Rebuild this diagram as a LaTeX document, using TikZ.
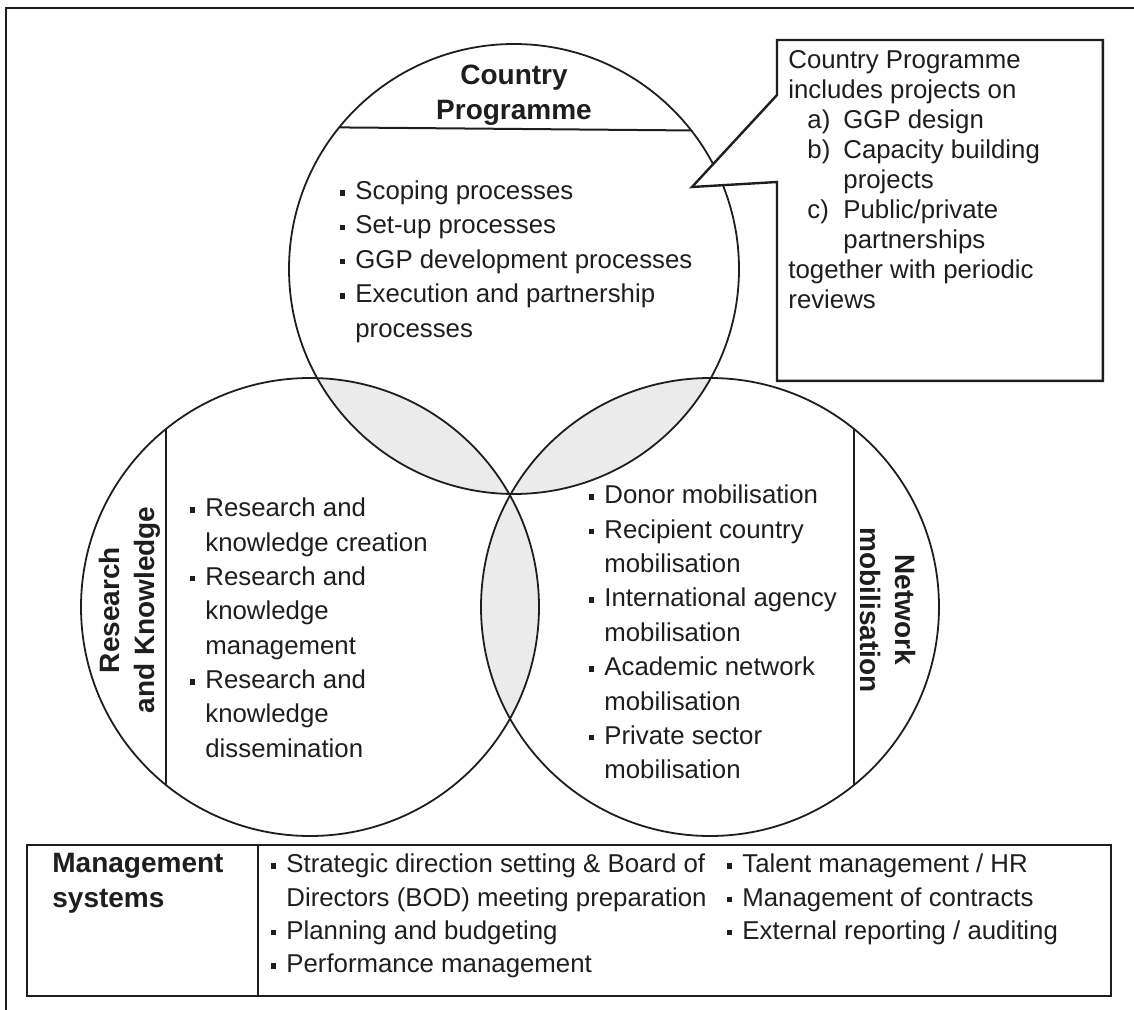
\documentclass[tikz,border=0pt]{standalone}
\usepackage{fontspec}
\setmainfont{Liberation Sans}
\usetikzlibrary{positioning,calc}
\definecolor{cInk}{HTML}{1E1E1E}
\definecolor{cLens}{HTML}{EBEBEB}
\newcommand\sqbul{\makebox[7.5pt][l]{\rule[0.3ex]{2.5pt}{2.7pt}}}
\newcommand\contind{\hspace*{7.5pt}}
\newcommand\noteitem[1]{\hspace*{9.5pt}\makebox[18pt][l]{#1}}
\newcommand\noteindent{\hspace*{27.5pt}}

\begin{document}
\begin{tikzpicture}[
  x=0.5pt,y=-0.5pt,
  font=\fontsize{12.9}{17.2}\selectfont,
  text=cInk,
  venn/.style={circle,draw=cInk,line width=0.9pt,inner sep=0pt,outer sep=0pt,minimum size=#1},
  divider/.style={draw=cInk,line width=1pt},
  frame/.style={draw=cInk,line width=1.2pt},
  lens/.style={fill=cLens},
  items/.style={align=left,inner sep=0pt,anchor=north west},
  title/.style={font=\fontsize{14}{17.5}\selectfont\bfseries,align=center,inner sep=0pt},
]
\useasboundingbox (0,0) rectangle (1134,1010);

% =====================================================================
% OUTER FRAME (open at right and bottom)
% =====================================================================
\draw[frame] (1134,8) -- (6,8) -- (6,1010);

% =====================================================================
% VENN CIRCLES AND THEIR SHADED OVERLAPS
% =====================================================================
\coordinate (cpC) at (514,269);
\coordinate (rkC) at (310,607);
\coordinate (nmC) at (710,607);

\begin{scope}
  \clip (cpC) circle[radius=112.5pt];
  \fill[lens] (rkC) circle[radius=114.5pt];
  \fill[lens] (nmC) circle[radius=114.5pt];
\end{scope}
\begin{scope}
  \clip (rkC) circle[radius=114.5pt];
  \fill[lens] (nmC) circle[radius=114.5pt];
\end{scope}

\node[venn=225pt] (cp) at (cpC) {};
\node[venn=229pt] (rk) at (rkC) {};
\node[venn=229pt] (nm) at (nmC) {};

% title bars inside the circles
\draw[divider] (cp.141.5) -- (cp.38.5);
\draw[divider] (rk.129.6) -- (rk.-129.6);
\draw[divider] (nm.51.35) -- (nm.-51.35);

\node[title] (cpTitle) at (514,95) {Country\\Programme};
\node[title,rotate=90] (rkTitle) at (130,610) {Research\\and Knowledge};
\node[title,rotate=-90] (nmTitle) at (888,610) {Network\\mobilisation};

\node[items] (cpList) at (340,180.5)
  {\sqbul Scoping processes\\\sqbul Set-up processes\\\sqbul GGP development processes\\
   \sqbul Execution and partnership\\\contind processes};
\node[items] (rkList) at (190,497.5)
  {\sqbul Research and\\\contind knowledge creation\\\sqbul Research and\\\contind knowledge\\
   \contind management\\\sqbul Research and\\\contind knowledge\\\contind dissemination};
\node[items] (nmList) at (589,484.5)
  {\sqbul Donor mobilisation\\\sqbul Recipient country\\\contind mobilisation\\
   \sqbul International agency\\\contind mobilisation\\\sqbul Academic network\\
   \contind mobilisation\\\sqbul Private sector\\\contind mobilisation};

% =====================================================================
% CALLOUT NOTE
% =====================================================================
\node[inner sep=0pt,minimum width=162.5pt,minimum height=170pt,anchor=north west] (note) at (777,40) {};
\coordinate (noteTip) at (692,187);
\draw[frame,fill=white] (note.north west) -- (note.north east) -- (note.south east) -- (note.south west)
  -- ($(note.north west)+(0,142)$) -- (noteTip) -- ($(note.north west)+(0,55)$) -- cycle;
\node[items,font=\fontsize{12.9}{15}\selectfont] (noteText) at ($(note.north west)+(11,10.5)$)
  {Country Programme\\includes projects on\\\noteitem{a)}GGP design\\\noteitem{b)}Capacity building\\
   \noteindent projects\\\noteitem{c)}Public/private\\\noteindent partnerships\\
   together with periodic\\reviews};

% =====================================================================
% MANAGEMENT SYSTEMS BOX
% =====================================================================
\node[frame,inner sep=0pt,minimum width=542pt,minimum height=75.5pt,anchor=north west] (msys) at (26,844) {};
\coordinate (msysCut) at ($(msys.north west)+(232,0)$);
\draw[divider] (msysCut) -- (msysCut |- msys.south);
\node[title,align=left,anchor=north west] (msysTitle) at ($(msys.north west)+(26,8.5)$) {Management\\systems};
\node[items,font=\fontsize{12.9}{16.7}\selectfont] (msysListA) at (271,853.5)
  {\sqbul Strategic direction setting \& Board of\\\contind Directors (BOD) meeting preparation\\
   \sqbul Planning and budgeting\\\sqbul Performance management};
\node[items,font=\fontsize{12.9}{16.7}\selectfont] (msysListB) at (727,853.5)
  {\sqbul Talent management / HR\\\sqbul Management of contracts\\\sqbul External reporting / auditing};

\end{tikzpicture}
\end{document}
